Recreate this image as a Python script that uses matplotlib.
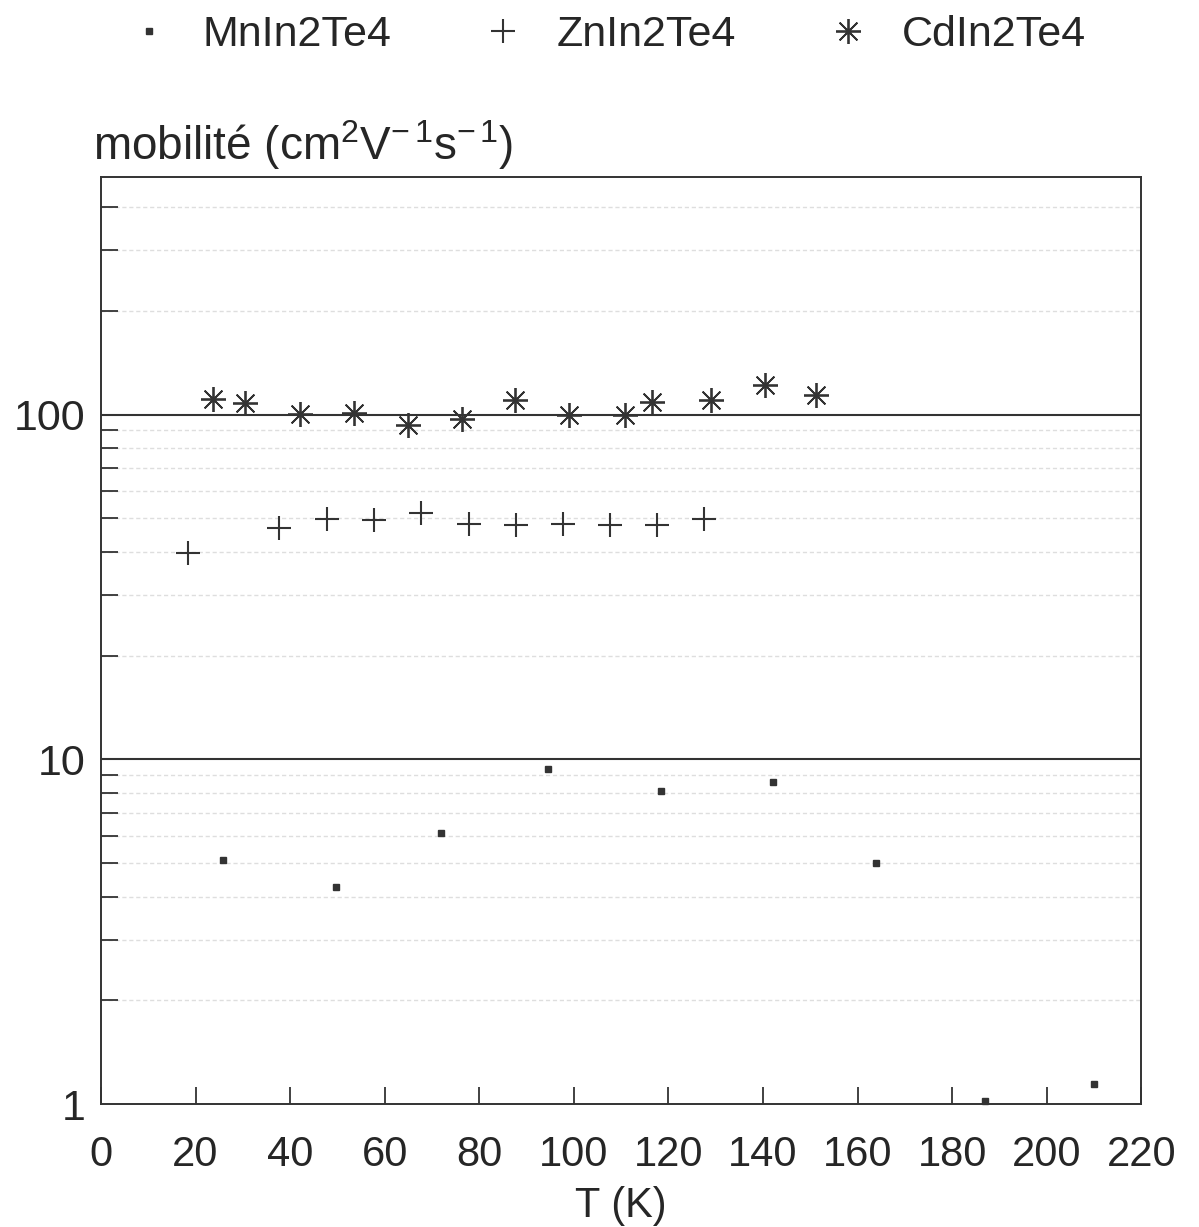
import matplotlib
matplotlib.use('Agg')
import matplotlib.pyplot as plt
from matplotlib.ticker import LogLocator, FixedLocator, NullFormatter, FixedFormatter

# MnIn2Te4
T_mn = [25.7, 49.8, 72.0, 94.6, 118.4, 142.2, 163.9, 187.0, 210.0]
mu_mn = [5.1, 4.25, 6.1, 9.4, 8.1, 8.6, 5.0, 1.02, 1.14]

# ZnIn2Te4
T_zn = [18.4, 37.6, 47.7, 57.8, 67.7, 77.8, 87.8, 97.6, 107.7, 117.6, 127.5]
mu_zn = [39.8, 46.8, 49.7, 49.5, 52.0, 48.0, 47.7, 48.0, 47.9, 47.9, 49.8]

# CdIn2Te4
T_cd = [23.7, 30.4, 42.0, 53.4, 65.0, 76.4, 87.6, 99.0, 110.7, 116.6, 129.0, 140.4, 151.2]
mu_cd = [110.7, 108, 100.6, 101, 93.3, 97.2, 110, 99.5, 99.6, 109, 110.6, 121.7, 114]

x_ticks = [0, 20, 40, 60, 80, 100, 120, 140, 160, 180, 200, 220]
y_ticks = [1, 10, 100]
y_tick_labels = ['1', '10', '100']

ink = '#333333'
txt = '#262626'


def main():
    plt.rcParams['font.family'] = ['Liberation Sans', 'DejaVu Sans']
    plt.rcParams['mathtext.fontset'] = 'custom'
    plt.rcParams['mathtext.rm'] = 'Liberation Sans'
    plt.rcParams['mathtext.it'] = 'Liberation Sans'

    fig = plt.figure(figsize=(11.99, 12.27), dpi=100)
    ax = fig.add_axes([0.0842, 0.1002, 0.952 - 0.0842, 0.856 - 0.1002])

    ax.set_yscale('log')
    ax.set_xlim(0, 220)
    ax.set_ylim(1, 490)

    # grille : traits pleins aux décades, pointillés clairs ailleurs
    for v in [10, 100]:
        ax.axhline(v, color=ink, lw=1.5, zorder=1)
    ax.yaxis.set_minor_locator(LogLocator(base=10, subs=range(2, 10)))
    ax.yaxis.set_minor_formatter(NullFormatter())
    ax.grid(which='minor', axis='y', color='#dedede', lw=1.0, ls=(0, (3, 2)), zorder=0)

    mn, = ax.plot(T_mn, mu_mn, ls='none', marker='s', ms=4.8, color=ink,
                  mec=ink, label='MnIn2Te4', clip_on=False, zorder=3)
    zn, = ax.plot(T_zn, mu_zn, ls='none', marker='+', ms=17, mew=1.5,
                  color=ink, label='ZnIn2Te4', zorder=3)
    cd, = ax.plot(T_cd, mu_cd, ls='none', marker=(8, 2, 0), ms=18, mew=1.3,
                  color=ink, label='CdIn2Te4', zorder=3)

    ax.xaxis.set_major_locator(FixedLocator(x_ticks))
    ax.yaxis.set_major_locator(FixedLocator(y_ticks))
    ax.yaxis.set_major_formatter(FixedFormatter(y_tick_labels))
    ax.tick_params(axis='x', which='major', direction='in', length=12, width=1.3,
                   color=ink, labelsize=30, pad=22, labelcolor=txt)
    ax.tick_params(axis='y', which='major', direction='in', length=0,
                   labelsize=31, pad=11, labelcolor=txt)
    ax.tick_params(axis='y', which='minor', direction='in', length=12, width=1.3,
                   color=ink)

    for s in ax.spines.values():
        s.set_color(ink)
        s.set_linewidth(1.4)

    ax.set_xlabel('T (K)', fontsize=30, color=txt, labelpad=8)

    fig.text(93 / 1199, 1 - 160 / 1227,
             r'mobilité (cm$^{2}$V$^{-\,1}$s$^{-\,1}$)',
             fontsize=33, color=txt, va='baseline', ha='left')

    fig.legend(handles=[mn, zn, cd], loc='center left',
               bbox_to_anchor=(127 / 1199, 1 - 35 / 1227), ncol=3,
               frameon=False, fontsize=31, handlelength=1.0,
               handletextpad=0.75, columnspacing=2.1, borderpad=0,
               borderaxespad=0, labelcolor=txt)

    fig.savefig('out.png', dpi=100)


if __name__ == '__main__':
    main()
